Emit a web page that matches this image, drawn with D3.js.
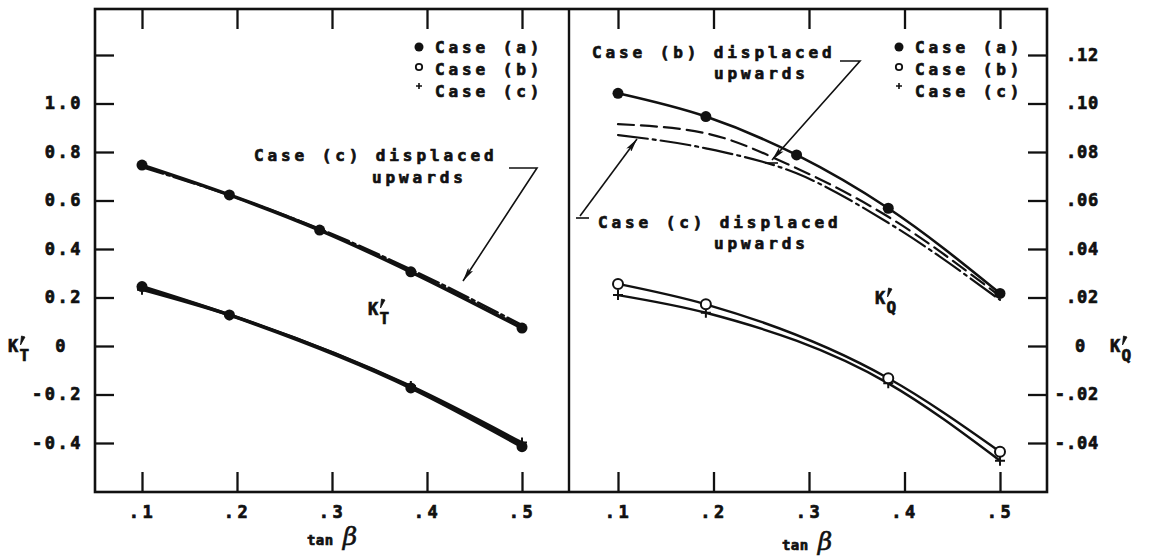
<!DOCTYPE html>
<html><head><meta charset="utf-8">
<script src="https://cdn.jsdelivr.net/npm/d3@7"></script>
<style>
html,body{margin:0;padding:0;background:#fff;}
svg{display:block;}
text{font-family:"DejaVu Sans Mono","Liberation Mono",monospace;font-weight:bold;fill:#111;stroke:#111;stroke-width:0.7px;}
</style></head><body>
<svg id="chart" width="1155" height="560"></svg>
<script>
// tan beta stations
const tanBeta = [0.1, 0.192, 0.287, 0.383, 0.5];
const tanBetaLower = [0.1, 0.192, 0.383, 0.5];

// K'T : upper family
const ktCaseA = [0.746, 0.623, 0.478, 0.306, 0.074];
const ktCaseCUp = [0.738, 0.622, 0.483, 0.316, 0.086];
// K'T : lower family
const ktLowerA = [0.245, 0.128, -0.173, -0.415];
const ktLowerB = [0.240, 0.130, -0.168, -0.405];
const ktLowerC = [0.232, 0.127, -0.165, -0.398];

// K'Q : upper family
const kqCaseA = [0.1042, 0.0946, 0.0788, 0.0568, 0.0217];
const kqCaseBUp = [0.0915, 0.0877, 0.0733, 0.0533, 0.0205];
const kqCaseCUp = [0.0870, 0.0815, 0.0712, 0.0508, 0.0190];
// K'Q : lower family
const kqCaseB = [0.0256, 0.0172, -0.0133, -0.0436];
const kqCaseC = [0.0210, 0.0137, -0.0154, -0.0473];

// axis ticks and labels
const xTicks = [0.1, 0.2, 0.3, 0.4, 0.5];
const xTickLabels = [".1", ".2", ".3", ".4", ".5"];
const ktTicks = [-0.4, -0.2, 0, 0.2, 0.4, 0.6, 0.8, 1.0, 1.2];
const ktTickLabels = ["-0.4", "-0.2", "0", "0.2", "0.4", "0.6", "0.8", "1.0", ""];
const kqTicks = [-0.04, -0.02, 0, 0.02, 0.04, 0.06, 0.08, 0.10, 0.12];
const kqTickLabels = ["-.04", "-.02", "0", ".02", ".04", ".06", ".08", ".10", ".12"];
const legendLabels = ["Case (a)", "Case (b)", "Case (c)"];

const svg = d3.select("#chart");
const F = {left: 95, right: 1047, top: 9, bottom: 492, mid: 569};

const xL = d3.scaleLinear().domain([0.1, 0.5]).range([142, 522]);
const xR = d3.scaleLinear().domain([0.1, 0.5]).range([618, 1000]);
const yL = d3.scaleLinear().domain([-0.4, 1.2]).range([443, 55]);
const yR = d3.scaleLinear().domain([-0.04, 0.12]).range([443, 55]);

// arrowhead
svg.append("defs").append("marker")
  .attr("id", "arrow").attr("markerUnits", "userSpaceOnUse")
  .attr("viewBox", "0 0 14 6").attr("refX", 14).attr("refY", 3)
  .attr("markerWidth", 14).attr("markerHeight", 6).attr("orient", "auto")
  .append("path").attr("d", "M0,0 L14,3 L0,6 L3,3 z").attr("fill", "#111");

// frame and divider
svg.append("rect").attr("x", F.left).attr("y", F.top)
  .attr("width", F.right - F.left).attr("height", F.bottom - F.top)
  .attr("fill", "none").attr("stroke", "#111").attr("stroke-width", 2.6);
svg.append("line").attr("x1", F.mid).attr("x2", F.mid).attr("y1", F.top).attr("y2", F.bottom)
  .attr("stroke", "#111").attr("stroke-width", 2.4);

function styleAxis(g, size, spacing) {
  g.select(".domain").remove();
  g.selectAll(".tick line").attr("stroke", "#111").attr("stroke-width", 2.3);
  g.selectAll(".tick text").attr("fill", "#111")
    .style("font-size", size + "px").style("letter-spacing", spacing + "px");
}

// x axes (bottom with labels, top ticks only)
[xL, xR].forEach(xs => {
  const gb = svg.append("g").attr("transform", `translate(0,${F.bottom})`)
    .call(d3.axisBottom(xs).tickValues(xTicks).tickSizeInner(-20).tickSizeOuter(0)
      .tickPadding(14).tickFormat((d, i) => xTickLabels[i]));
  styleAxis(gb, 17, 3.5);
  const gt = svg.append("g").attr("transform", `translate(0,${F.top})`)
    .call(d3.axisTop(xs).tickValues(xTicks).tickSizeInner(-20).tickSizeOuter(0).tickFormat(""));
  styleAxis(gt, 17, 0);
});

// left y axis (K'T)
const gyl = svg.append("g").attr("transform", `translate(${F.left},0)`)
  .call(d3.axisLeft(yL).tickValues(ktTicks).tickSizeInner(-19).tickSizeOuter(0)
    .tickPadding(12).tickFormat((d, i) => ktTickLabels[i]));
styleAxis(gyl, 17, 2.5);
gyl.selectAll(".tick text").filter(d => d === 0).attr("x", -27);

// right y axis (K'Q)
const gyr = svg.append("g").attr("transform", `translate(${F.right},0)`)
  .call(d3.axisRight(yR).tickValues(kqTicks).tickSizeInner(-19).tickSizeOuter(0)
    .tickFormat((d, i) => kqTickLabels[i]));
styleAxis(gyr, 17, 0.8);
gyr.selectAll(".tick text").attr("text-anchor", "end").attr("x", 52);
gyr.selectAll(".tick text").filter(d => d === 0).attr("x", 39);

// curves
function curve(xs, ys, xv, yv, width, dash) {
  const line = d3.line().x((d, i) => xs(xv[i])).y(d => ys(d)).curve(d3.curveMonotoneX);
  svg.append("path").datum(yv).attr("d", line)
    .attr("fill", "none").attr("stroke", "#111").attr("stroke-width", width)
    .attr("stroke-linecap", "round").attr("stroke-dasharray", dash || null);
}
function dots(xs, ys, xv, yv, kind, r) {
  const g = svg.append("g");
  yv.forEach((v, i) => {
    const cx = xs(xv[i]), cy = ys(v);
    if (kind === "filled") {
      g.append("circle").attr("cx", cx).attr("cy", cy).attr("r", r).attr("fill", "#111");
    } else if (kind === "open") {
      g.append("circle").attr("cx", cx).attr("cy", cy).attr("r", r)
        .attr("fill", "#fff").attr("stroke", "#111").attr("stroke-width", 2);
    } else {
      g.append("path").attr("d", `M${cx - r},${cy}H${cx + r}M${cx},${cy - r}V${cy + r}`)
        .attr("stroke", "#111").attr("stroke-width", 2);
    }
  });
}

// K'T panel
curve(xL, yL, tanBeta, ktCaseCUp, 2.4, "22,4,3,4");
curve(xL, yL, tanBeta, ktCaseA, 3.6);
dots(xL, yL, tanBeta, ktCaseA, "filled", 5.5);
curve(xL, yL, tanBetaLower, ktLowerC, 2.6);
curve(xL, yL, tanBetaLower, ktLowerB, 2.6);
curve(xL, yL, tanBetaLower, ktLowerA, 3.4);
dots(xL, yL, tanBetaLower, ktLowerC, "plus", 5);
dots(xL, yL, tanBetaLower, ktLowerA, "filled", 5.5);

// K'Q panel
curve(xR, yR, tanBeta, kqCaseCUp, 2.2, "30,5,3,5");
curve(xR, yR, tanBeta, kqCaseBUp, 2.2, "16,7");
curve(xR, yR, tanBeta, kqCaseA, 2.6);
dots(xR, yR, tanBeta, kqCaseA, "filled", 5.5);
curve(xR, yR, tanBetaLower, kqCaseB, 2.4);
curve(xR, yR, tanBetaLower, kqCaseC, 2.4);
dots(xR, yR, tanBetaLower, kqCaseC, "plus", 5);
dots(xR, yR, tanBetaLower, kqCaseB, "open", 5);

// text helpers
function label(x, y, str, size, spacing, anchor) {
  return svg.append("text").attr("x", x).attr("y", y).attr("text-anchor", anchor || "start")
    .style("font-size", size + "px").style("letter-spacing", spacing + "px").text(str);
}
// K with a prime above and a letter below-right
function kPrime(x, y, sub) {
  label(x, y, "K", 17, 0);
  svg.append("path")
    .attr("d", `M${x + 13.5},${y - 16} L${x + 17},${y - 15} L${x + 12.5},${y - 7} z`)
    .attr("fill", "#111").attr("stroke", "#111").attr("stroke-width", 0.8);
  label(x + 11.5, y + 9, sub, 16, 0);
}
function tanLabel(cx, y) {
  const t = svg.append("text").attr("x", cx).attr("y", y).attr("text-anchor", "middle");
  t.append("tspan").style("font-size", "14px").style("letter-spacing", "0.5px").text("tan ");
  t.append("tspan").style("font-size", "25px").style("font-family", "DejaVu Serif")
    .style("font-style", "italic").style("font-weight", "normal").style("stroke-width", "0.6px").text("β");
}

// legends
function legend(symX, textX, ys) {
  const kinds = ["filled", "open", "plus"];
  kinds.forEach((k, i) => {
    const g = svg.append("g");
    const cy = ys[i] - 6;
    if (k === "filled") g.append("circle").attr("cx", symX).attr("cy", cy).attr("r", 4.5).attr("fill", "#111");
    else if (k === "open") g.append("circle").attr("cx", symX).attr("cy", cy - 2).attr("r", 3.2)
      .attr("fill", "none").attr("stroke", "#111").attr("stroke-width", 1.8);
    else g.append("path").attr("d", `M${symX - 3},${cy - 5}H${symX + 3}M${symX},${cy - 8}V${cy - 2}`)
      .attr("stroke", "#111").attr("stroke-width", 1.6);
    label(textX, ys[i], legendLabels[i], 16, 3.9);
  });
}
legend(419, 435, [53, 75, 97]);
legend(899, 915, [53, 75, 97]);

// in-plot annotations
label(254, 161, "Case (c) displaced", 16, 3.9);
label(372, 183, "upwards", 16, 3.9);
svg.append("path").attr("d", "M509,168H537L463,281").attr("fill", "none")
  .attr("stroke", "#111").attr("stroke-width", 1.6).attr("marker-end", "url(#arrow)");

label(592, 58, "Case (b) displaced", 16, 3.9);
label(714, 79, "upwards", 16, 3.9);
svg.append("path").attr("d", "M840,61H860L772,160").attr("fill", "none")
  .attr("stroke", "#111").attr("stroke-width", 1.6).attr("marker-end", "url(#arrow)");
svg.append("line").attr("x1", 765).attr("x2", 778).attr("y1", 163).attr("y2", 163)
  .attr("stroke", "#111").attr("stroke-width", 1.6);

label(598, 228, "Case (c) displaced", 16, 3.9);
label(714, 249, "upwards", 16, 3.9);
svg.append("line").attr("x1", 576).attr("x2", 589).attr("y1", 218).attr("y2", 218)
  .attr("stroke", "#111").attr("stroke-width", 1.6);
svg.append("path").attr("d", "M580,216L637,139").attr("fill", "none")
  .attr("stroke", "#111").attr("stroke-width", 1.6).attr("marker-end", "url(#arrow)");

kPrime(368, 315, "T");
kPrime(875, 304, "Q");
kPrime(8, 352, "T");
kPrime(1110, 352, "Q");

tanLabel(332, 545);
tanLabel(807, 550);
</script>
</body></html>
